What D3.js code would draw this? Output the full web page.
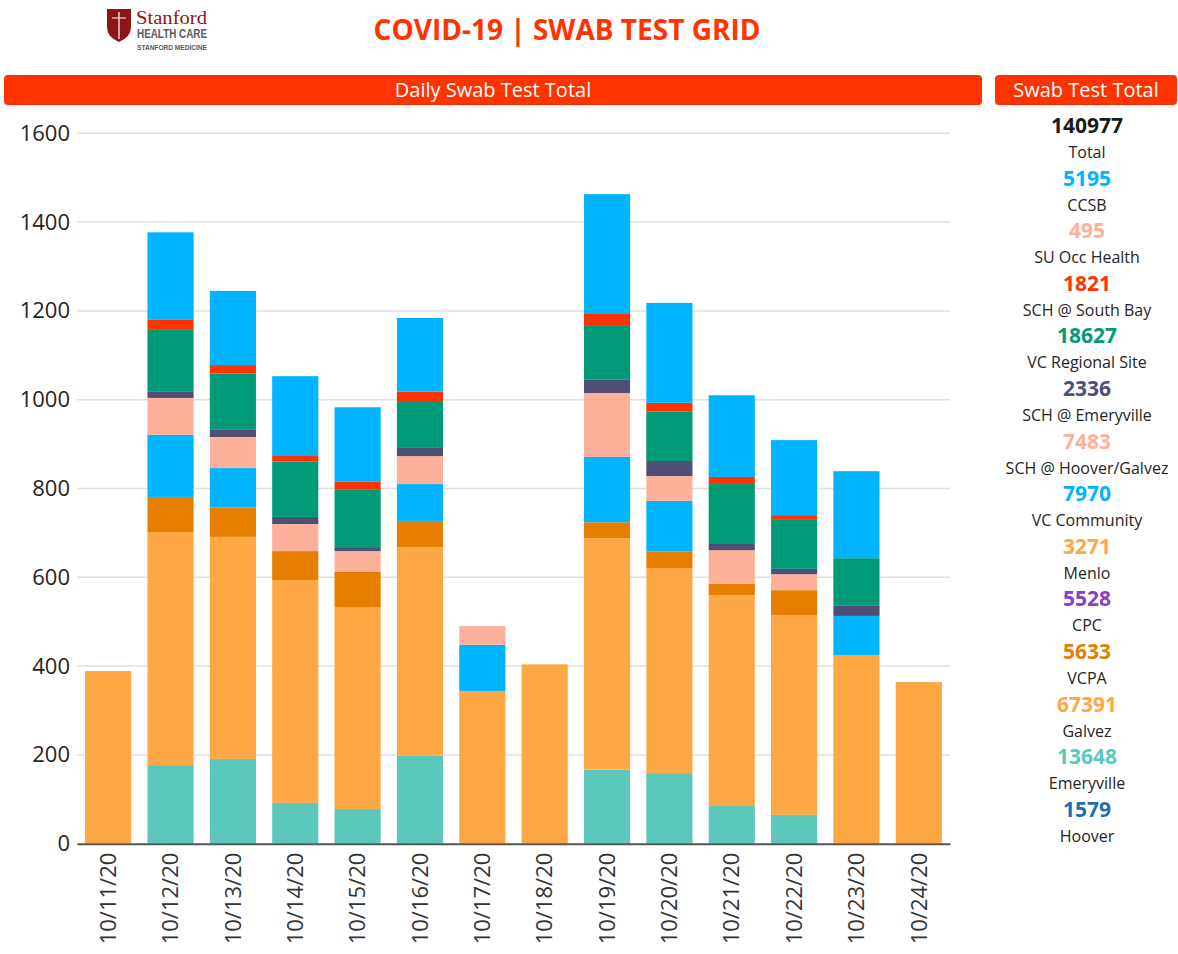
<!DOCTYPE html>
<html lang="en">
<head>
<meta charset="UTF-8">
<script src="https://d3js.org/d3.v7.min.js"></script>
<style>
  body { margin: 0; background: #fff; font-family: "Open Sans", "Noto Sans", sans-serif; }
  svg { display: block; }
  .y-axis text { font-size: 22px; fill: #252423; font-family: "Open Sans", sans-serif; }
  .x-axis text { font-size: 22px; fill: #333; font-family: "Open Sans", sans-serif; }
</style>
</head>
<body>
<svg id="chart"></svg>
<script>
// dates on the x axis
const dates = ["10/11/20","10/12/20","10/13/20","10/14/20","10/15/20","10/16/20","10/17/20",
               "10/18/20","10/19/20","10/20/20","10/21/20","10/22/20","10/23/20","10/24/20"];

// daily values per site (stack bottom -> top)
const hoover          = [0,   0,   0,   0,   0,   0,   0,   0,   0,   0,   0,   0,   0,   0];
const emeryville      = [0, 177, 191,  92,  78, 198,   0,   0, 167, 159,  85,  65,   0,   0];
const galvez          = [389, 525, 500, 502, 455, 470, 344, 404, 521, 462, 475, 450, 425, 364];
const vcpa            = [0,  79,  66,  65,  79,  59,   0,   0,  36,  37,  25,  56,   0,   0];
const cpc             = [0,   0,   0,   0,   0,   0,   0,   0,   0,   0,   0,   0,   0,   0];
const menlo           = [0,   0,   0,   0,   0,   0,   0,   0,   0,   0,   0,   0,   0,   0];
const vcCommunity     = [0, 140,  89,   0,   0,  83, 104,   0, 147, 114,   0,   0,  88,   0];
const schHooverGalvez = [0,  83,  70,  61,  47,  63,  42,   0, 144,  56,  76,  36,   0,   0];
const schEmeryville   = [0,  15,  16,  16,   9,  20,   0,   0,  31,  34,  14,  12,  24,   0];
const vcRegional      = [0, 140, 127, 125, 129, 104,   0,   0, 122, 111, 135, 112, 106,   0];
const schSouthBay     = [0,  22,  19,  14,  18,  21,   0,   0,  25,  20,  16,   9,   0,   0];
const suOccHealth     = [0,   0,   0,   0,   0,   0,   0,   0,   0,   0,   0,   0,   0,   0];
const ccsb            = [0, 196, 167, 178, 168, 166,   0,   0, 270, 225, 184, 169, 196,   0];

const yTicks = [0, 200, 400, 600, 800, 1000, 1200, 1400, 1600];

// summary panel
const summaryLabels = ["Total","CCSB","SU Occ Health","SCH @ South Bay","VC Regional Site","SCH @ Emeryville",
                       "SCH @ Hoover/Galvez","VC Community","Menlo","CPC","VCPA","Galvez","Emeryville","Hoover"];
const summaryValues = [140977, 5195, 495, 1821, 18627, 2336, 7483, 7970, 3271, 5528, 5633, 67391, 13648, 1579];
const summaryColors = ["#1a1a1a","#00b4ff","#ffb09a","#ff3300","#009a77","#4e4f75","#ffb09a",
                       "#00b4ff","#fea845","#8a3fc8","#e67f00","#fea845","#5bc8bb","#1f6fb0"];

const series = [
  {key: "Hoover", values: hoover, color: "#1f6fb0"},
  {key: "Emeryville", values: emeryville, color: "#5bc8bb"},
  {key: "Galvez", values: galvez, color: "#fea845"},
  {key: "VCPA", values: vcpa, color: "#e67f00"},
  {key: "CPC", values: cpc, color: "#8a3fc8"},
  {key: "Menlo", values: menlo, color: "#fea845"},
  {key: "VC Community", values: vcCommunity, color: "#00b4ff"},
  {key: "SCH @ Hoover/Galvez", values: schHooverGalvez, color: "#ffb09a"},
  {key: "SCH @ Emeryville", values: schEmeryville, color: "#4e4f75"},
  {key: "VC Regional Site", values: vcRegional, color: "#009a77"},
  {key: "SCH @ South Bay", values: schSouthBay, color: "#ff3300"},
  {key: "SU Occ Health", values: suOccHealth, color: "#ffb09a"},
  {key: "CCSB", values: ccsb, color: "#00b4ff"}
];

const W = 1178, H = 954;
const svg = d3.select("#chart").attr("width", W).attr("height", H);

// build table for d3.stack
const table = dates.map((d, i) => {
  const row = {date: d};
  series.forEach(s => row[s.key] = s.values[i]);
  return row;
});
const stacked = d3.stack().keys(series.map(s => s.key))(table);

const x = d3.scaleBand().domain(dates).range([77, 950]).paddingInner(0.26).paddingOuter(0.13);
const y = d3.scaleLinear().domain([0, 1600]).range([843.7, 133.3]);

// logo
const logo = svg.append("g").attr("transform", "translate(107,9)");
logo.append("path")
  .attr("d", "M0,0 H24 V18 Q24,28 12,33 Q0,28 0,18 Z")
  .attr("fill", "#8c1515");
logo.append("path")
  .attr("d", "M12,3 V30 M5,9 H19")
  .attr("stroke", "#fff").attr("stroke-width", 1.2).attr("fill", "none");
logo.append("text").attr("x", 29).attr("y", 15)
  .attr("font-family", "'Liberation Serif', serif").attr("font-size", 19)
  .attr("textLength", 71).attr("lengthAdjust", "spacingAndGlyphs")
  .attr("fill", "#8c1515").text("Stanford");
logo.append("text").attr("x", 30).attr("y", 29)
  .attr("font-family", "'Liberation Sans', sans-serif").attr("font-size", 12).attr("font-weight", 700)
  .attr("textLength", 70).attr("lengthAdjust", "spacingAndGlyphs")
  .attr("fill", "#58595b").text("HEALTH CARE");
logo.append("text").attr("x", 30).attr("y", 41)
  .attr("font-family", "'Liberation Sans', sans-serif").attr("font-size", 6.5).attr("font-weight", 700)
  .attr("textLength", 70).attr("lengthAdjust", "spacingAndGlyphs")
  .attr("fill", "#58595b").text("STANFORD MEDICINE");

// title
svg.append("text").attr("x", 567).attr("y", 40).attr("text-anchor", "middle")
  .attr("font-size", 28).attr("font-weight", 700).attr("fill", "#ff3300")
  .text("COVID-19 | SWAB TEST GRID");

// header bars
function header(x0, w, label) {
  svg.append("rect").attr("x", x0).attr("y", 75).attr("width", w).attr("height", 30)
    .attr("rx", 4).attr("fill", "#ff3300");
  svg.append("text").attr("x", x0 + w / 2).attr("y", 97).attr("text-anchor", "middle")
    .attr("font-size", 20).attr("fill", "#fff").text(label);
}
header(4, 978, "Daily Swab Test Total");
header(995, 182, "Swab Test Total");

// gridlines + y axis
svg.append("g").selectAll("line").data(yTicks.slice(1)).join("line")
  .attr("x1", 77).attr("x2", 950)
  .attr("y1", d => y(d)).attr("y2", d => y(d))
  .attr("stroke", "#e0e0e0").attr("stroke-width", 1.5);

const yAxis = svg.append("g").attr("class", "y-axis")
  .attr("transform", "translate(77,0)")
  .call(d3.axisLeft(y).tickValues(yTicks).tickFormat(d3.format("d")).tickSize(0).tickPadding(7));
yAxis.select(".domain").remove();

// bars
svg.append("g").selectAll("g").data(stacked).join("g")
  .attr("fill", (d, i) => series[i].color)
  .selectAll("rect").data(d => d).join("rect")
  .attr("x", d => x(d.data.date))
  .attr("y", d => y(d[1]))
  .attr("width", x.bandwidth())
  .attr("height", d => y(d[0]) - y(d[1]));

// x axis
const xAxis = svg.append("g").attr("class", "x-axis")
  .attr("transform", "translate(0,843.7)")
  .call(d3.axisBottom(x).tickSize(0).tickPadding(0));
xAxis.select(".domain").attr("stroke", "#555").attr("stroke-width", 2);
xAxis.selectAll("text")
  .attr("transform", "rotate(-90)")
  .attr("text-anchor", "end")
  .attr("dy", "0.35em")
  .attr("x", -9).attr("y", 0);

// summary panel
const panel = svg.append("g");
summaryValues.forEach((v, i) => {
  const cy = 126 + i * 52.6;
  panel.append("text").attr("x", 1087).attr("y", cy + 7).attr("text-anchor", "middle")
    .attr("font-size", 21).attr("font-weight", 700).attr("fill", summaryColors[i]).text(v);
  panel.append("text").attr("x", 1087).attr("y", cy + 32).attr("text-anchor", "middle")
    .attr("font-size", 16).attr("fill", "#252423").text(summaryLabels[i]);
});
</script>
</body>
</html>
